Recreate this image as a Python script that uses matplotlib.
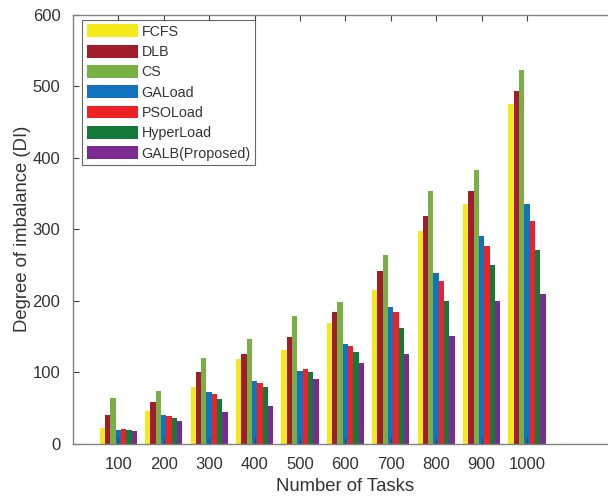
import numpy as np
import matplotlib.pyplot as plt

plt.rcParams["font.family"] = ["Liberation Sans", "DejaVu Sans"]

tasks = ["100", "200", "300", "400", "500", "600", "700", "800", "900", "1000"]
methods = ["FCFS", "DLB", "CS", "GALoad", "PSOLoad", "HyperLoad", "GALB(Proposed)"]
colors = ["#F4EA1A", "#A11D2E", "#78B043", "#1372C0", "#EE2127", "#137A3B", "#7B2B8F"]

fcfs = [22, 46, 79, 119, 131, 169, 215, 297, 335, 476]
dlb = [40, 58, 100, 126, 149, 184, 242, 319, 353, 494]
cs = [64, 73, 120, 147, 178, 198, 264, 354, 383, 523]
gaload = [19, 40, 72, 88, 102, 139, 191, 239, 291, 335]
psoload = [21, 38, 70, 85, 104, 137, 184, 228, 277, 312]
hyperload = [19, 36, 62, 79, 100, 128, 162, 199, 250, 271]
galb = [18, 31, 44, 53, 90, 113, 125, 150, 199, 210]
series = [fcfs, dlb, cs, gaload, psoload, hyperload, galb]

fig = plt.figure(figsize=(6.08, 4.98), dpi=100)
ax = fig.add_axes([0.12, 0.1094, 0.896, 0.8605])

x = np.arange(1, len(tasks) + 1)
n = len(series)
w = 0.82 / n
for i, (vals, name, c) in enumerate(zip(series, methods, colors)):
    ax.bar(x + (i - (n - 1) / 2) * w, vals, w, color=c, label=name, linewidth=0)

ax.set_xlim(0, 12)
ax.set_ylim(0, 600)
ax.set_xticks(x)
ax.set_xticklabels(tasks)
ax.set_yticks(range(0, 601, 100))

for s in ax.spines.values():
    s.set_color("#808080")
    s.set_linewidth(1.0)
ax.tick_params(direction="in", length=4, color="#404040", labelcolor="#333333",
               labelsize=12, top=True, right=True)
ax.tick_params(axis="x", pad=10)
ax.tick_params(axis="y", pad=9)

ax.set_xlabel("Number of Tasks", fontsize=13.3, color="#333333", labelpad=4)
ax.set_ylabel("Degree of imbalance (DI)", fontsize=13.3, color="#333333", labelpad=1)

leg = ax.legend(loc="upper left", bbox_to_anchor=(0.017, 0.988), fontsize=10.3,
                frameon=True, fancybox=False, handlelength=3.6, handleheight=1.0,
                handletextpad=0.25, labelspacing=0.42, borderpad=0.3,
                borderaxespad=0.0)
leg.get_frame().set_edgecolor("#404040")
leg.get_frame().set_linewidth(0.8)
for t in leg.get_texts():
    t.set_color("#333333")

fig.savefig("out.png", dpi=100)
